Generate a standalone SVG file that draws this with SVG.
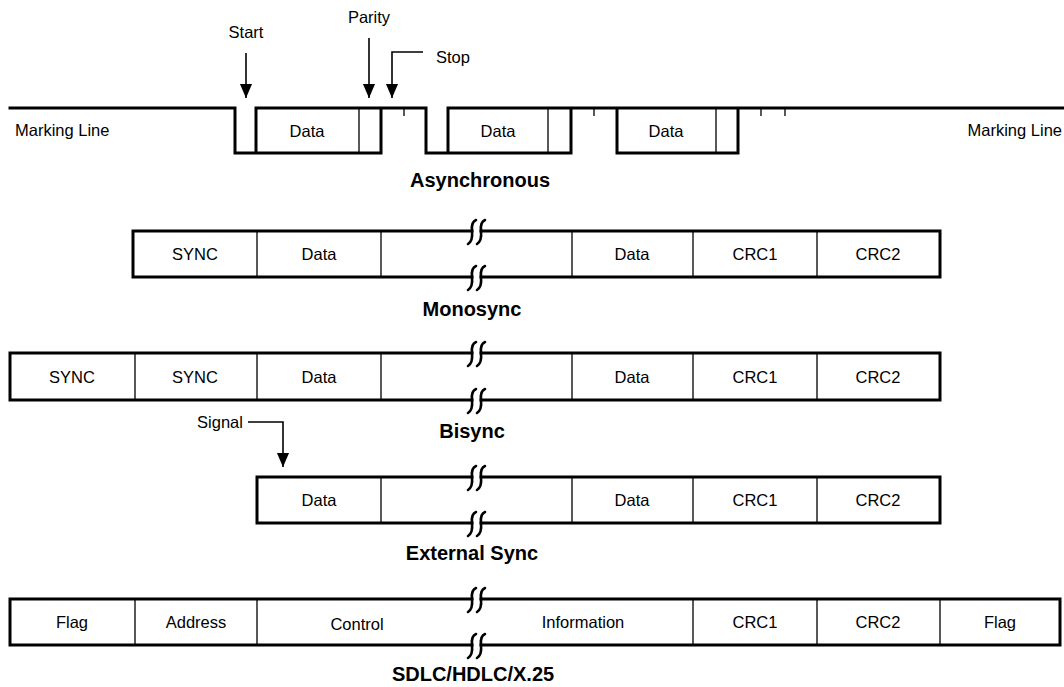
<svg xmlns="http://www.w3.org/2000/svg" width="1064" height="687" viewBox="0 0 1064 687">
<style>
.t{font-family:"Liberation Sans",Arial,sans-serif;font-size:16.5px;fill:#000;text-anchor:middle}
.b{font-family:"Liberation Sans",Arial,sans-serif;font-size:20px;font-weight:bold;fill:#000;text-anchor:middle}
.k{stroke:#000;stroke-width:3;fill:none;stroke-linecap:square}
.n{stroke:#000;stroke-width:1.3;fill:none}
.a{stroke:#000;stroke-width:1.6;fill:none}
.s{stroke:#000;stroke-width:2.6;fill:none;stroke-linecap:round}
</style>
<defs>
<marker id="ah" markerUnits="userSpaceOnUse" markerWidth="14" markerHeight="14" refX="15" refY="6.5" orient="auto" viewBox="0 0 15 13">
<path d="M0,0 L15,6.5 L0,13 z" fill="#000"/>
</marker>
<g id="brk">
<path class="s" d="M4,-11 Q-1,-9 0,0 Q1,10 -4,13"/>
<path class="s" d="M13,-11 Q8,-9 9,0 Q10,10 5,13"/>
</g>
</defs>
<rect width="1064" height="687" fill="#fff"/>

<g id="async">
<path class="k" d="M10,108 H235 V153 H381 V108 H426 V153 H571 V108 H617 V153 H738 V108 M256,108 V153 M448,108 V153 M256,108 H381 M448,108 H1064"/>
<path class="n" d="M359,108 V153 M548,108 V153 M716,108 V153 M404,108 V116 M594,108 V116 M761,108 V116 M785,108 V116"/>
<text class="t" x="15" y="136" style="text-anchor:start">Marking Line</text>
<text class="t" x="1062" y="136" style="text-anchor:end">Marking Line</text>
<text class="t" x="307" y="137">Data</text>
<text class="t" x="498" y="137">Data</text>
<text class="t" x="666" y="137">Data</text>
<text class="t" x="246" y="38">Start</text>
<text class="t" x="369" y="23">Parity</text>
<text class="t" x="436" y="63" style="text-anchor:start">Stop</text>
<text class="b" x="480" y="187">Asynchronous</text>
</g>

<g id="connectors">
<path class="a" d="M246,53 V98" marker-end="url(#ah)"/>
<path class="a" d="M369,38 V98" marker-end="url(#ah)"/>
<path class="a" d="M423,52 H392 V98" marker-end="url(#ah)"/>
<path class="a" d="M248,422 H283 V467" marker-end="url(#ah)"/>
</g>

<g id="monosync">
<path class="k" d="M472,231 H133 V277 H472 M481,231 H940 V277 H481"/>
<path class="n" d="M257,231 V277 M381,231 V277 M572,231 V277 M693,231 V277 M817,231 V277"/>
<use href="#brk" x="472" y="231"/>
<use href="#brk" x="472" y="277"/>
<text class="t" x="195" y="260">SYNC</text>
<text class="t" x="319" y="260">Data</text>
<text class="t" x="632" y="260">Data</text>
<text class="t" x="755" y="260">CRC1</text>
<text class="t" x="878" y="260">CRC2</text>
<text class="b" x="472" y="316">Monosync</text>
</g>

<g id="bisync">
<path class="k" d="M472,353 H10 V400 H472 M481,353 H940 V400 H481"/>
<path class="n" d="M135,353 V400 M257,353 V400 M381,353 V400 M572,353 V400 M693,353 V400 M817,353 V400"/>
<use href="#brk" x="472" y="353"/>
<use href="#brk" x="472" y="400"/>
<text class="t" x="72" y="383">SYNC</text>
<text class="t" x="195" y="383">SYNC</text>
<text class="t" x="319" y="383">Data</text>
<text class="t" x="632" y="383">Data</text>
<text class="t" x="755" y="383">CRC1</text>
<text class="t" x="878" y="383">CRC2</text>
<text class="b" x="472" y="438">Bisync</text>
<text class="t" x="220" y="428">Signal</text>
</g>

<g id="extsync">
<path class="k" d="M472,477 H257 V523 H472 M481,477 H940 V523 H481"/>
<path class="n" d="M381,477 V523 M572,477 V523 M693,477 V523 M817,477 V523"/>
<use href="#brk" x="472" y="477"/>
<use href="#brk" x="472" y="523"/>
<text class="t" x="319" y="506">Data</text>
<text class="t" x="632" y="506">Data</text>
<text class="t" x="755" y="506">CRC1</text>
<text class="t" x="878" y="506">CRC2</text>
<text class="b" x="472" y="560">External Sync</text>
</g>

<g id="sdlc">
<path class="k" d="M472,599 H10 V645 H472 M481,599 H1060 V645 H481"/>
<path class="n" d="M135,599 V645 M257,599 V645 M693,599 V645 M817,599 V645 M940,599 V645"/>
<use href="#brk" x="472" y="599"/>
<use href="#brk" x="472" y="645"/>
<text class="t" x="72" y="628">Flag</text>
<text class="t" x="196" y="628">Address</text>
<text class="t" x="357" y="630">Control</text>
<text class="t" x="583" y="628">Information</text>
<text class="t" x="755" y="628">CRC1</text>
<text class="t" x="878" y="628">CRC2</text>
<text class="t" x="1000" y="628">Flag</text>
<text class="b" x="473" y="681">SDLC/HDLC/X.25</text>
</g>
</svg>
